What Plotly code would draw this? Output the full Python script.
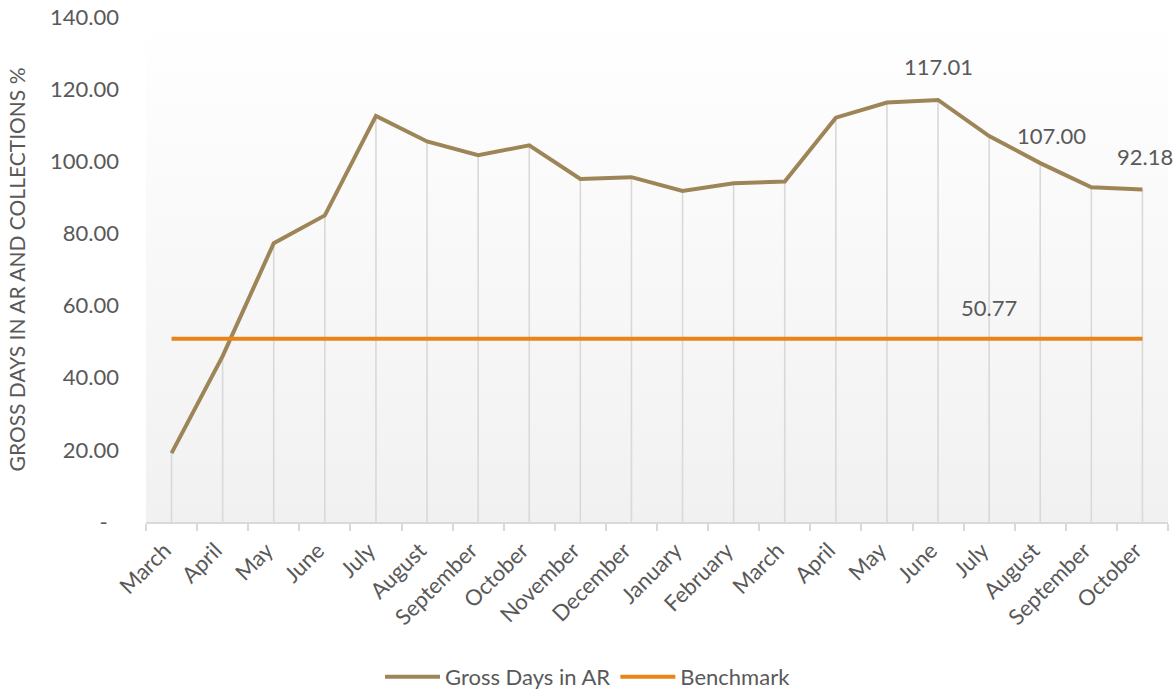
import base64
import plotly.graph_objects as go

months = ["March", "April", "May", "June", "July", "August", "September", "October",
          "November", "December", "January", "February", "March", "April", "May", "June",
          "July", "August", "September", "October"]
gross_days = [19.1, 46.0, 77.3, 85.0, 112.6, 105.5, 101.7, 104.4, 95.1, 95.6, 91.8, 93.9,
              94.4, 112.1, 116.3, 117.01, 107.00, 99.5, 92.8, 92.18]
benchmark = [50.77] * len(months)
y_ticks = [0, 20, 40, 60, 80, 100, 120, 140]
y_ticktext = ["-\u00a0\u00a0"] + [f"{v:.2f}" for v in y_ticks[1:]]

FONT = "Lato"
TXT = "#595959"
BROWN = "#9E8558"
ORANGE = "#E9841A"

xs = list(range(len(months)))

fig = go.Figure()

# drop lines from each point to the axis
fig.add_trace(go.Scatter(
    x=xs, y=gross_days, mode="markers", marker=dict(opacity=0, size=1),
    error_y=dict(type="data", symmetric=False, array=[0] * len(xs), arrayminus=gross_days,
                 color="#d9d9d9", thickness=1.6, width=0),
    showlegend=False, hoverinfo="skip"))

fig.add_trace(go.Scatter(x=xs, y=gross_days, mode="lines", name="Gross Days in AR",
                         line=dict(color=BROWN, width=4)))
fig.add_trace(go.Scatter(x=xs, y=benchmark, mode="lines", name="Benchmark",
                         line=dict(color=ORANGE, width=4)))

# data labels
labels = [(15, gross_days[15], 0, 33), (16, gross_days[16], 62, 1), (19, gross_days[19], 3, 33)]
for i, v, dx, dy in labels:
    fig.add_annotation(x=i, y=v, text=f"{v:.2f}", showarrow=False, xshift=dx, yshift=dy,
                       font=dict(family=FONT, size=22, color=TXT))
fig.add_annotation(x=16, y=benchmark[16], text=f"{benchmark[16]:.2f}", showarrow=False,
                   yshift=31, font=dict(family=FONT, size=22, color=TXT))

svg = ('<svg xmlns="http://www.w3.org/2000/svg" width="100" height="100" preserveAspectRatio="none">'
       '<defs><linearGradient id="g" x1="0" y1="0" x2="0" y2="1">'
       '<stop offset="0" stop-color="#ffffff"/><stop offset="1" stop-color="#f1f1f1"/>'
       '</linearGradient></defs><rect width="100" height="100" fill="url(#g)"/></svg>')
src = "data:image/svg+xml;base64," + base64.b64encode(svg.encode()).decode()
fig.add_layout_image(dict(source=src, xref="paper", yref="paper", x=0, y=1, sizex=1, sizey=1,
                          sizing="stretch", layer="below", xanchor="left", yanchor="top"))

fig.update_layout(
    width=1176, height=693,
    margin=dict(l=146, r=8, t=17, b=171, autoexpand=False),
    paper_bgcolor="white", plot_bgcolor="rgba(0,0,0,0)",
    font=dict(family=FONT, size=20, color=TXT),
    showlegend=True,
    legend=dict(orientation="h", xref="container", yref="container", x=0.5, y=0.023,
                xanchor="center", yanchor="middle", font=dict(family=FONT, size=22, color=TXT),
                itemwidth=55, bgcolor="rgba(0,0,0,0)"),
    xaxis=dict(range=[-0.5, len(months) - 0.5], tickmode="array", tickvals=xs, ticktext=months,
               tickangle=-45, ticks="", showgrid=False, zeroline=False, automargin=False,
               showline=True, linecolor="#d9d9d9", linewidth=2,
               ticklabelshift=-7, ticklabelstandoff=5,
               tickfont=dict(family=FONT, size=22, color=TXT),
               minor=dict(tickmode="array", tickvals=[i - 0.5 for i in range(len(months) + 1)],
                          ticks="outside", ticklen=7, tickcolor="#d9d9d9", tickwidth=2,
                          showgrid=False)),
    yaxis=dict(range=[0, 140], tickmode="array", tickvals=y_ticks, ticktext=y_ticktext,
               showgrid=False, zeroline=False, showline=False, ticks="", automargin=False,
               ticklabelstandoff=26,
               tickfont=dict(family=FONT, size=22, color=TXT),
               title=dict(text="GROSS DAYS IN AR AND COLLECTIONS %", standoff=18,
                          font=dict(family=FONT, size=21, color=TXT))),
)

fig.write_html("out.html")
